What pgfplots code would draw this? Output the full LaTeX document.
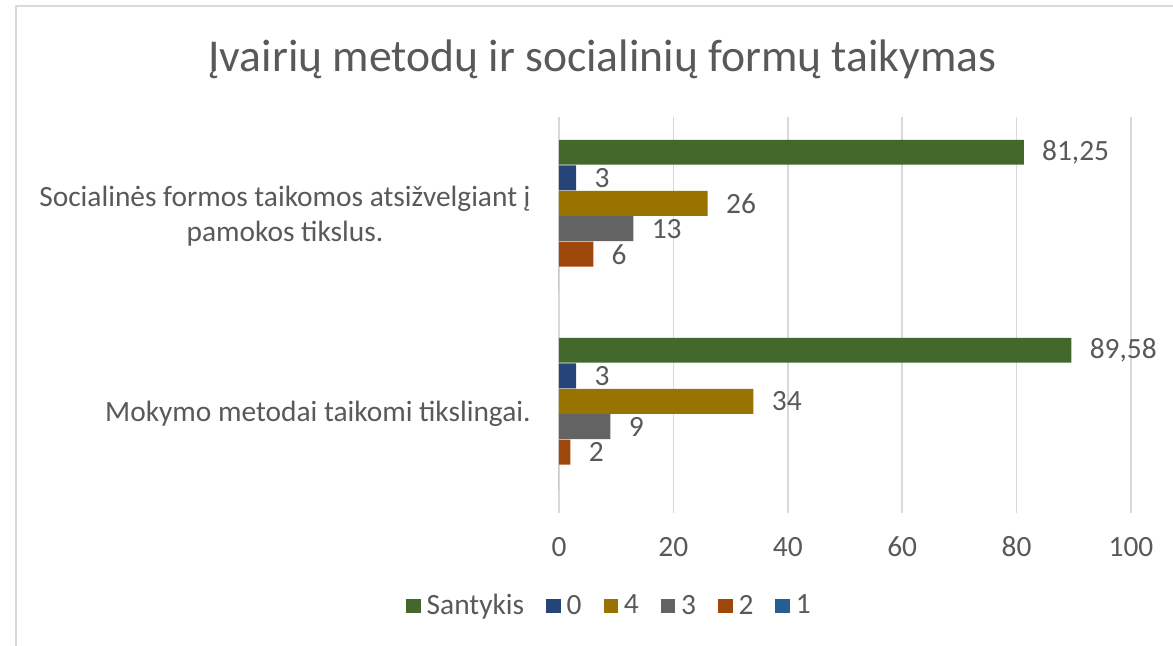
\documentclass[border=0pt]{standalone}
\usepackage{pgfplots}
\pgfplotsset{compat=1.18}
\usepackage{fontspec}
\setmainfont{Carlito}
\definecolor{cSant}{HTML}{43682B}
\definecolor{cZero}{HTML}{264478}
\definecolor{cFour}{HTML}{997300}
\definecolor{cThree}{HTML}{636363}
\definecolor{cTwo}{HTML}{9E480E}
\definecolor{cOne}{HTML}{255E91}
\definecolor{txt}{HTML}{595959}
\definecolor{gridc}{HTML}{D9D9D9}
\newcommand{\lbfont}{\fontsize{14.7}{17.5}\selectfont}
\begin{document}
\begin{tikzpicture}
\useasboundingbox (0pt,0pt) rectangle (586.5pt,-323pt);
\draw[color=gridc, line width=1pt] (8pt,-323pt) -- (8pt,-3pt) -- (586.5pt,-3pt);
\node[anchor=base, text=txt, font=\fontsize{22.8}{27}\selectfont, inner sep=0pt] at (301.25pt,-36pt) {Įvairių metodų ir socialinių formų taikymas};
\begin{axis}[
  at={(279.5pt,-256.5pt)}, anchor=south west,
  scale only axis, width=286pt, height=198pt,
  xmin=0, xmax=100, ymin=-0.5, ymax=1.5,
  xbar, bar width=0.126,
  clip=false,
  point meta=x,
  xtick={0,20,40,60,80,100}, ytick={0,1},
  yticklabels={Mokymo metodai taikomi tikslingai., {Socialinės formos taikomos atsižvelgiant į\\pamokos tikslus.}},
  axis lines*=left, axis line style={draw=none},
  major tick length=0pt,
  xmajorgrids, grid style={color=gridc, line width=0.75pt},
  /pgf/number format/assume math mode=true,
  /pgf/number format/use comma,
  /pgf/number format/fixed,
  /pgf/number format/precision=2,
  xticklabel style={font=\lbfont, text=txt, anchor=base, inner sep=0pt, yshift=-21.5pt},
  yticklabel style={font=\lbfont, text=txt, anchor=east, inner sep=0pt, xshift=-14pt, align=center},
  every node near coord/.append style={anchor=west, inner sep=0pt, xshift=9pt, font=\lbfont, text=txt},
  every axis plot/.append style={legend image code/.code={\fill[##1] (0pt,-3.6pt) rectangle (7.2pt,3.6pt);}},
  legend columns=-1,
  legend style={at={(0.0892,-0.2348)}, anchor=center, draw=none, fill=none, font=\lbfont, text=txt,
    nodes={inner xsep=1.5pt},
    /tikz/every even column/.append style={column sep=9.5pt},
    /tikz/every odd column/.append style={column sep=1.5pt}},
]
\addplot[fill=cSant, draw=none, bar shift=0.322, nodes near coords] coordinates {(89.58,0) (81.25,1)};
\addlegendentry{Santykis}
\addplot[fill=cZero, draw=none, bar shift=0.193, nodes near coords] coordinates {(3,0) (3,1)};
\addlegendentry{0}
\addplot[fill=cFour, draw=none, bar shift=0.064, nodes near coords] coordinates {(34,0) (26,1)};
\addlegendentry{4}
\addplot[fill=cThree, draw=none, bar shift=-0.064, nodes near coords] coordinates {(9,0) (13,1)};
\addlegendentry{3}
\addplot[fill=cTwo, draw=none, bar shift=-0.193, nodes near coords] coordinates {(2,0) (6,1)};
\addlegendentry{2}
\addplot[fill=cOne, draw=none, bar shift=-0.322] coordinates {(0,0) (0,1)};
\addlegendentry{1}
\end{axis}
\end{tikzpicture}
\end{document}
